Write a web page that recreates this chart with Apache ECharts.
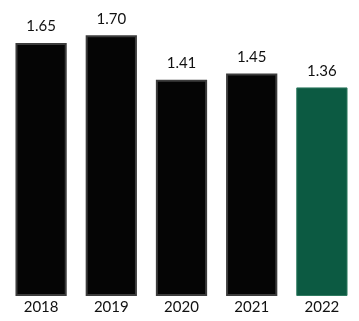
<!DOCTYPE html>
<html><head><meta charset="utf-8">
<script src="https://cdn.jsdelivr.net/npm/echarts@6/dist/echarts.min.js"></script>
<style>html,body{margin:0;padding:0;background:#fff}#c{width:359px;height:321px}</style>
</head><body><div id="c"></div>
<script>
var categories = ['2018','2019','2020','2021','2022'];
var values = [1.65, 1.70, 1.41, 1.45, 1.36];
var highlightIndex = 4;

var chart = echarts.init(document.getElementById('c'), null, {renderer:'canvas'});
chart.setOption({
  animation:false,
  grid:{left:6, right:2, top:0, height:296, containLabel:false},
  xAxis:{type:'category', data:categories,
    axisLine:{show:false}, axisTick:{show:false},
    axisLabel:{color:'#111', fontSize:15, fontFamily:'Lato, "Open Sans", sans-serif', margin:4}},
  yAxis:{type:'value', min:0, max:1.93, show:false, splitLine:{show:false}},
  series:[{type:'bar', barWidth:'73%',
    data: values.map(function(v,i){
      return i===highlightIndex
        ? {value:v, itemStyle:{color:'#0c5a42', borderColor:'#2f7a60', borderWidth:1}}
        : {value:v, itemStyle:{color:'#050505', borderColor:'#3c3c3c', borderWidth:2}};
    }),
    label:{show:true, position:'top', distance:9, color:'#111', fontSize:15,
      fontFamily:'Lato, "Open Sans", sans-serif',
      formatter:function(p){return p.value.toFixed(2);}}
  }]
});
</script></body></html>
